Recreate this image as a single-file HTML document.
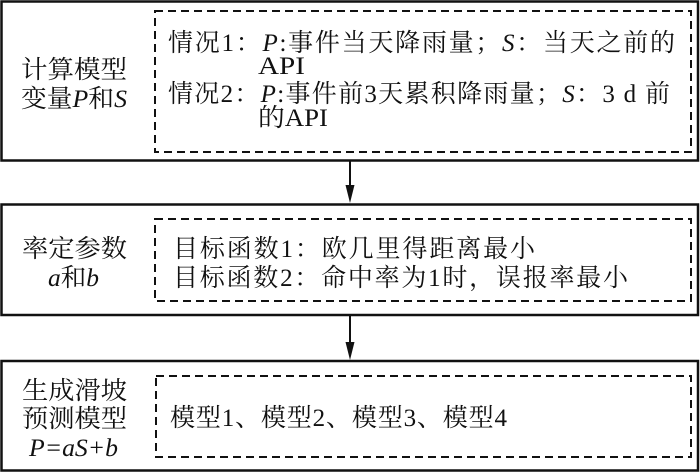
<!DOCTYPE html>
<html>
<head>
<meta charset="utf-8">
<style>
html,body{margin:0;padding:0;background:#fff;}
svg{display:block;}
text{font-family:"Liberation Serif","Noto Serif CJK SC","Noto Serif CJK JP","Noto Sans CJK SC",serif;font-size:25px;fill:#111;}
.i{font-style:italic;}
</style>
</head>
<body>
<svg width="700" height="473" viewBox="0 0 700 473" xmlns="http://www.w3.org/2000/svg">
  <!-- outer boxes -->
  <rect x="1.5" y="1.5" width="696.5" height="159" fill="none" stroke="#111" stroke-width="2.5"/>
  <rect x="1.5" y="204.5" width="696.5" height="110.5" fill="none" stroke="#111" stroke-width="2.5"/>
  <rect x="1.5" y="361" width="696.5" height="109.5" fill="none" stroke="#111" stroke-width="2.5"/>

  <!-- dashed boxes -->
  <rect x="155" y="11" width="536" height="141" fill="none" stroke="#111" stroke-width="2" stroke-dasharray="8,5"/>
  <rect x="155" y="219" width="536" height="82" fill="none" stroke="#111" stroke-width="2" stroke-dasharray="8,5"/>
  <rect x="156" y="376" width="535" height="81" fill="none" stroke="#111" stroke-width="2" stroke-dasharray="8,5"/>

  <!-- arrows -->
  <line x1="350" y1="161" x2="350" y2="188" stroke="#111" stroke-width="2"/>
  <polygon points="345.5,185 354.5,185 350,203" fill="#111"/>
  <line x1="350" y1="315" x2="350" y2="345" stroke="#111" stroke-width="2"/>
  <polygon points="345.5,342 354.5,342 350,360" fill="#111"/>

  <!-- box 1 -->
  <text x="21" y="78" textLength="106" lengthAdjust="spacingAndGlyphs">计算模型</text>
  <text x="21" y="107" textLength="106" lengthAdjust="spacingAndGlyphs">变量<tspan class="i">P</tspan>和<tspan class="i">S</tspan></text>

  <text x="168" y="51" textLength="507" lengthAdjust="spacing">情况1：<tspan class="i">P</tspan>:事件当天降雨量；<tspan class="i">S</tspan>：当天之前的</text>
  <text x="258" y="74" textLength="47" lengthAdjust="spacingAndGlyphs">API</text>
  <text x="168" y="102" textLength="502" lengthAdjust="spacing">情况2：<tspan class="i">P</tspan>:事件前3天累积降雨量；<tspan class="i">S</tspan>：3 d 前</text>
  <text x="258" y="126" textLength="70" lengthAdjust="spacingAndGlyphs">的API</text>

  <!-- box 2 -->
  <text x="22" y="257" textLength="105" lengthAdjust="spacingAndGlyphs">率定参数</text>
  <text x="48" y="286" textLength="51" lengthAdjust="spacingAndGlyphs"><tspan class="i">a</tspan>和<tspan class="i">b</tspan></text>

  <text x="173" y="257" textLength="362" lengthAdjust="spacing">目标函数1：欧几里得距离最小</text>
  <text x="173" y="286" textLength="455" lengthAdjust="spacing">目标函数2：命中率为1时，误报率最小</text>

  <!-- box 3 -->
  <text x="22" y="399" textLength="105" lengthAdjust="spacingAndGlyphs">生成滑坡</text>
  <text x="22" y="427" textLength="105" lengthAdjust="spacingAndGlyphs">预测模型</text>
  <text x="29" y="456" textLength="89" lengthAdjust="spacingAndGlyphs" class="i">P=aS+b</text>

  <text x="170" y="426" textLength="337" lengthAdjust="spacing">模型1、模型2、模型3、模型4</text>
</svg>
</body>
</html>
